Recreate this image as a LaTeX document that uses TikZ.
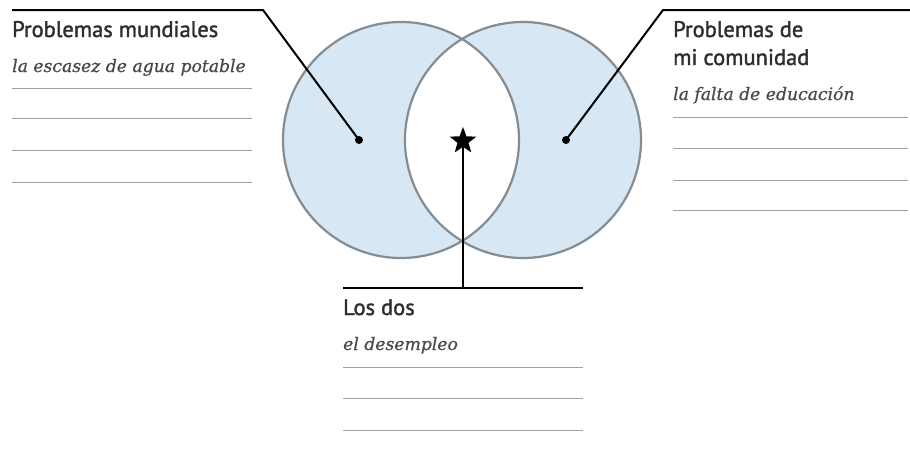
\documentclass[tikz,border=0pt]{standalone}
\usepackage{fontspec}
\newfontfamily\headfont[FakeBold=1.6]{PT Sans}
\newfontfamily\notefont[ItalicFeatures={FakeBold=0.8}]{DejaVu Serif}
\usetikzlibrary{shapes.geometric}
\definecolor{vennfill}{HTML}{D7E7F3}
\definecolor{venndraw}{HTML}{858C92}
\definecolor{headtext}{HTML}{2E2E2E}
\definecolor{notetext}{HTML}{4A4A4A}
\definecolor{ruleline}{HTML}{A0A0A0}

\tikzset{
  heading/.style={anchor=base west, inner sep=0pt, align=left, text=headtext,
    font=\headfont\fontsize{22.5}{28}\selectfont},
  example/.style={anchor=base west, inner sep=0pt, text=notetext,
    font=\notefont\itshape\fontsize{17.2}{20}\selectfont},
  writeline/.style={ruleline, line width=1pt},
  leader/.style={black, line width=2pt},
  shelf/.style={black, line width=2.6pt},
  spot/.style={circle, fill=black, inner sep=0pt, minimum size=8pt},
  bothmark/.style={star, star points=5, star point ratio=2.4, fill=black,
    inner sep=0pt, minimum size=28pt}
}

\begin{document}
\begin{tikzpicture}[x=1pt, y=-1pt]
  \useasboundingbox (0,0) rectangle (910,459);

  % Venn circles
  \fill[vennfill] (401,140) circle[radius=118pt];
  \fill[vennfill] (523,140) circle[radius=118pt];
  \begin{scope}
    \clip (401,140) circle[radius=118pt];
    \fill[white] (523,140) circle[radius=118pt];
  \end{scope}
  \draw[venndraw, line width=2.2pt] (401,140) circle[radius=118pt];
  \draw[venndraw, line width=2.2pt] (523,140) circle[radius=118pt];

  % Markers
  \node[spot] (mundo) at (359,140) {};
  \node[spot] (comun) at (566,140) {};
  \node[bothmark] (ambos) at (463,141) {};

  % Leaders
  \coordinate (mundoend) at (12,10);
  \coordinate (mundobend) at (263,10);
  \coordinate (comunbend) at (663,10);
  \coordinate (comunend) at (910,10);
  \coordinate (ambosfoot) at (463,288);
  \coordinate (amboleft) at (343,288);
  \coordinate (amboright) at (583,288);
  \draw[leader] (mundoend) -- (mundobend) -- (mundo.center);
  \draw[leader] (comunend) -- (comunbend) -- (comun.center);
  \draw[black, line width=1.3pt] (ambos.center) -- (ambosfoot);
  \draw[shelf] (amboleft) -- (amboright);

  % Left block
  \node[heading] (mundotitle) at (12,37) {Problemas mundiales};
  \node[example] (mundonote) at (12,72) {la escasez de agua potable};
  \foreach \y in {88,118,150,182}
    \draw[writeline] (12,\y) -- (252,\y);

  % Right block
  \node[heading] (comuntitle) at (673,65) {Problemas de\\mi comunidad};
  \node[example] (comunnote) at (673,100) {la falta de educación};
  \foreach \y in {117,148,180,210}
    \draw[writeline] (673,\y) -- (908,\y);

  % Bottom block
  \node[heading] (ambostitle) at (343,315) {Los dos};
  \node[example] (ambosnote) at (343,350) {el desempleo};
  \foreach \y in {367,398,430}
    \draw[writeline] (343,\y) -- (583,\y);
\end{tikzpicture}
\end{document}
